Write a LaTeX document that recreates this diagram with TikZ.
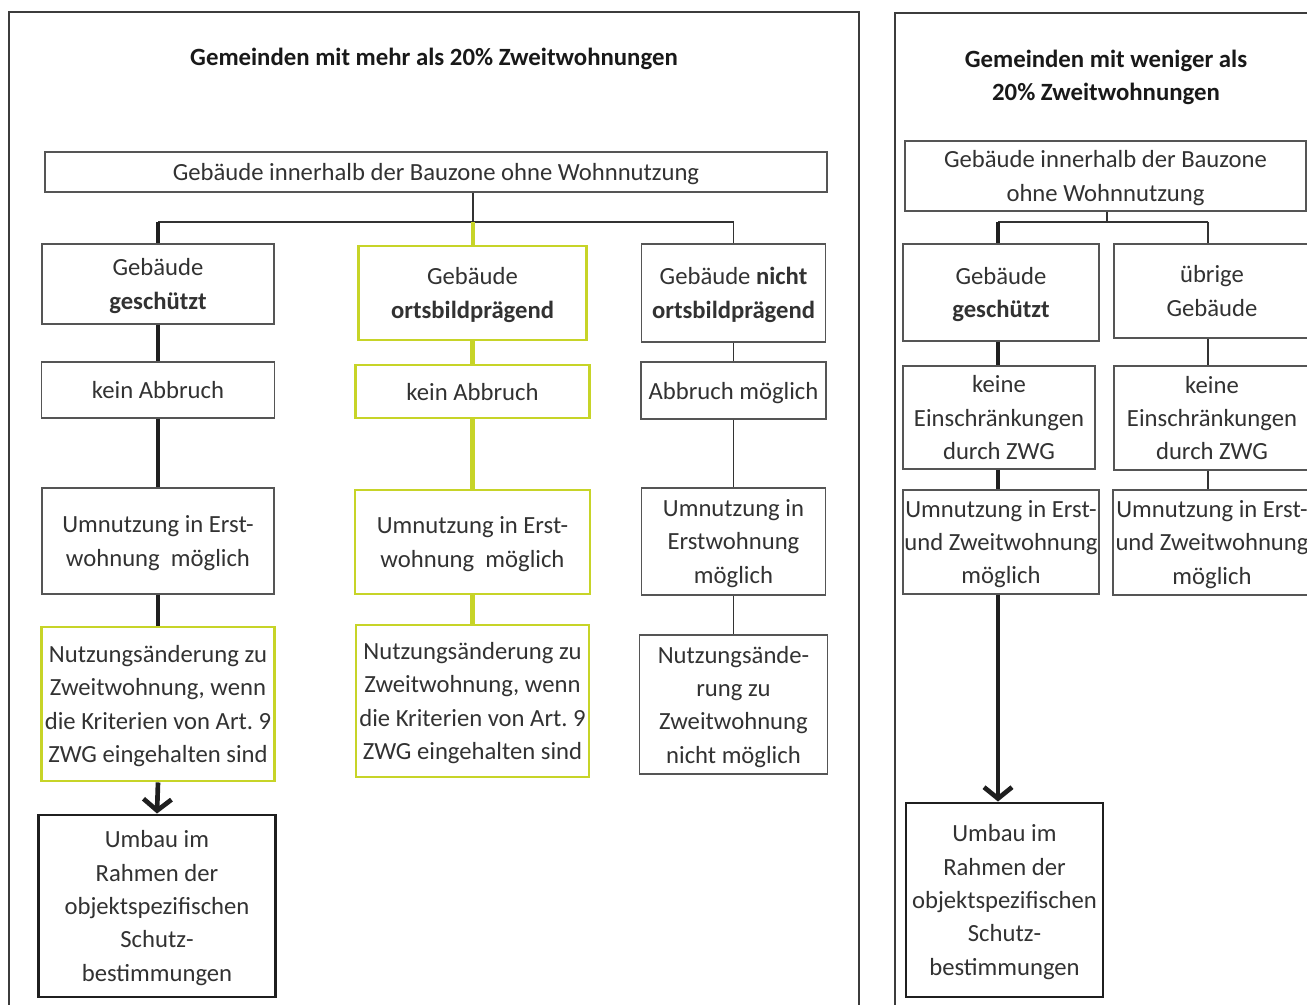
\documentclass[tikz,border=0pt]{standalone}
\usepackage{fontspec}
\setmainfont{Carlito}
\usetikzlibrary{arrows.meta}
\definecolor{zwgreen}{RGB}{199,212,40}
\definecolor{boxgray}{RGB}{85,85,85}
\definecolor{txt}{RGB}{50,50,50}
\definecolor{framegray}{RGB}{60,60,60}
\begin{document}
\begin{tikzpicture}[x=0.75pt,y=-0.75pt,
  bx/.style={draw=boxgray, line width=0.8pt, inner sep=0pt, align=center,
    font=\fontsize{18.5}{25}\selectfont, text=txt, text depth=0pt},
  gbx/.style={bx, draw=zwgreen, line width=2.2pt},
  tbx/.style={bx, draw=black!88, line width=2.2pt},
  sz/.style 2 args={minimum width=#1*0.75pt, minimum height=#2*0.75pt},
  ttl/.style={align=center, inner sep=0pt, font=\fontsize{18.6}{25}\selectfont\bfseries, text=black!90, text depth=0pt},
  thinc/.style={draw=black!80, line width=0.8pt},
  thickc/.style={draw=black!88, line width=3.5pt},
  greenc/.style={draw=zwgreen, line width=3.5pt},
  arr/.style={thickc, -{Straight Barb[length=8.5pt,width=21pt]}},
  frame/.style={draw=framegray, line width=1.1pt}
]
\useasboundingbox (0,0) rectangle (1307,1005);
\clip (0,0) rectangle (1307,1005);
\fill[white] (0,0) rectangle (1307,1005);

% frames
\draw[frame] (9,1012) -- (9,12) -- (859,12) -- (859,1012);
\draw[frame] (895,1012) -- (895,13) -- (1315,13);

% titles
\node[ttl] (tl) at (434,57) {Gemeinden mit mehr als 20\% Zweitwohnungen};
\node[ttl] (tr) at (1106,75) {Gemeinden mit weniger als\\20\% Zweitwohnungen};

% left panel
\node[bx, sz={782}{40}] (top) at (436,172) {Gebäude innerhalb der Bauzone ohne Wohnnutzung};
\node[bx, sz={232}{80}] (b1) at (158,284) {Gebäude\\\textbf{geschützt}};
\node[gbx, sz={228}{94}] (g1) at (472.5,293) {Gebäude\\\textbf{ortsbildprägend}};
\node[bx, sz={184}{98}] (n1) at (733.5,293) {Gebäude \textbf{nicht}\\\textbf{ortsbildprägend}};
\node[bx, sz={233}{56}] (b2) at (158,390) {kein Abbruch};
\node[gbx, sz={234}{53}] (g2) at (472.5,391.5) {kein Abbruch};
\node[bx, sz={185}{57}] (n2) at (733.5,390.5) {Abbruch möglich};
\node[bx, sz={232}{106}] (b3) at (158,541) {Umnutzung in Erst-\\wohnung~~möglich};
\node[gbx, sz={235}{104}] (g3) at (472.5,542) {Umnutzung in Erst-\\wohnung~~möglich};
\node[bx, sz={184}{107}] (n3) at (733.5,541.5) {Umnutzung in\\Erstwohnung\\möglich};
\node[gbx, sz={233}{154}] (b4) at (158,704) {Nutzungsänderung zu\\Zweitwohnung, wenn\\die Kriterien von Art.~9\\ZWG eingehalten sind};
\node[gbx, sz={233}{152}] (g4) at (472.5,701) {Nutzungsänderung zu\\Zweitwohnung, wenn\\die Kriterien von Art.~9\\ZWG eingehalten sind};
\node[bx, sz={188}{139}] (n4) at (733.5,704.5) {Nutzungsände-\\rung zu\\Zweitwohnung\\nicht möglich};
\node[tbx, sz={237}{182}] (u1) at (157,906) {Umbau im\\Rahmen der\\objektspezifischen\\Schutz-\\bestimmungen};

\coordinate (jL) at (473,222);
\draw[thinc] (top.south -| jL) -- (jL);
\draw[thinc] (jL -| b1.north) -- (jL -| n1.north);
\draw[thickc] (jL -| b1.north) -- (b1.north);
\draw[greenc] (jL) -- (jL |- g1.north);
\draw[thinc] (jL -| n1.north) -- (n1.north);
\draw[thickc] (b1.south) -- (b2.north);
\draw[thickc] (b2.south) -- (b3.north);
\draw[thickc] (b3.south) -- (b4.north);
\draw[arr] (b4.south) -- (u1.north);
\draw[greenc] (g1.south) -- (g2.north);
\draw[greenc] (g2.south) -- (g3.north);
\draw[greenc] (g3.south) -- (g4.north);
\draw[thinc] (n1.south) -- (n2.north);
\draw[thinc] (n2.south) -- (n3.north);
\draw[thinc] (n3.south) -- (n4.north);

% right panel
\node[bx, sz={401}{70}] (rtop) at (1105.5,176) {Gebäude innerhalb der Bauzone\\ohne Wohnnutzung};
\node[bx, sz={196}{97}] (r1a) at (1001,292.5) {Gebäude\\\textbf{geschützt}};
\node[bx, sz={196}{94}] (r2a) at (1212,291) {übrige\\Gebäude};
\node[bx, sz={192}{103}] (r1b) at (999,417.5) {keine\\Einschränkungen\\durch ZWG};
\node[bx, sz={196}{104}] (r2b) at (1212,418) {keine\\Einschränkungen\\durch ZWG};
\node[bx, sz={196}{104}] (r1c) at (1001,542) {Umnutzung in Erst-\\und Zweitwohnung\\möglich};
\node[bx, sz={198}{105}] (r2c) at (1212,542.5) {Umnutzung in Erst-\\und Zweitwohnung\\möglich};
\node[tbx, sz={197}{194}] (ru) at (1004.5,900) {Umbau im\\Rahmen der\\objektspezifischen\\Schutz-\\bestimmungen};

\coordinate (jR) at (1107,222);
\coordinate (cR1) at (998,222);
\coordinate (cR2) at (1208,222);
\draw[thinc] (rtop.south -| jR) -- (jR);
\draw[thinc] (cR1) -- (cR2);
\draw[thickc] (cR1) -- (cR1 |- r1a.north);
\draw[thinc] (cR2) -- (cR2 |- r2a.north);
\draw[thickc] (cR1 |- r1a.south) -- (cR1 |- r1b.north);
\draw[thickc] (cR1 |- r1b.south) -- (cR1 |- r1c.north);
\draw[thinc] (cR2 |- r2a.south) -- (cR2 |- r2b.north);
\draw[thinc] (cR2 |- r2b.south) -- (cR2 |- r2c.north);
\draw[arr] (cR1 |- r1c.south) -- (cR1 |- ru.north);
\end{tikzpicture}
\end{document}
